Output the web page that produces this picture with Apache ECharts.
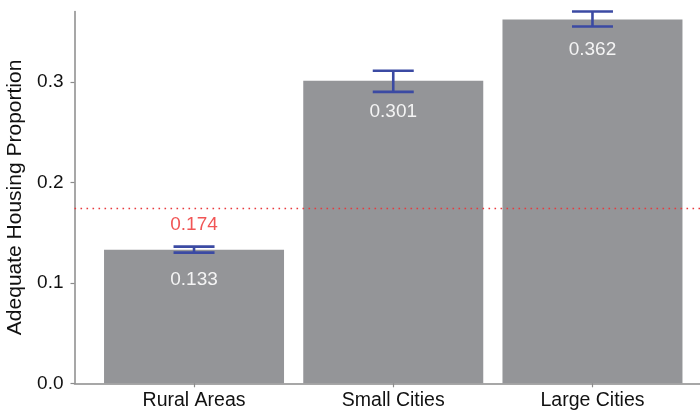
<!DOCTYPE html>
<html>
<head>
<meta charset="utf-8">
<script src="https://cdn.jsdelivr.net/npm/echarts@6/dist/echarts.min.js"></script>
<style>html,body{margin:0;padding:0;background:#fff;}#c{width:700px;height:412px;}</style>
</head>
<body>
<div id="c"></div>
<script>
const categories = ['Rural Areas', 'Small Cities', 'Large Cities'];
const values = [0.133, 0.301, 0.362];
const errLow = [0.130, 0.290, 0.355];
const errHigh = [0.136, 0.311, 0.370];
const refValue = 0.174;
const yTicks = [0, 0.1, 0.2, 0.3];
const catPositions = [1, 2, 3];
const xRange = [0.4, 3.6];

const FONT = '"Liberation Sans", Arial, Helvetica, sans-serif';
const chart = echarts.init(document.getElementById('c'), null, {renderer: 'canvas'});

const barData = values.map((v, i) => [catPositions[i], v]);
const errData = values.map((v, i) => [catPositions[i], errLow[i], errHigh[i]]);

chart.setOption({
  animation: false,
  backgroundColor: '#ffffff',
  grid: {left: 74.5, right: -12, top: 11.5, bottom: 28.7, containLabel: false, outerBoundsMode: 'none'},
  xAxis: {
    type: 'value', min: xRange[0], max: xRange[1],
    axisLine: {show: true, lineStyle: {color: '#8a8a8a', width: 1.5}},
    axisTick: {show: true, length: 4, customValues: catPositions, lineStyle: {color: '#8a8a8a', width: 1.2}},
    axisLabel: {
      customValues: catPositions,
      formatter: v => categories[Math.round(v) - 1] || '',
      fontFamily: FONT, fontSize: 19.5, color: '#111', margin: 7
    },
    splitLine: {show: false}
  },
  yAxis: {
    type: 'value', min: 0, max: 0.37,
    name: 'Adequate Housing Proportion', nameLocation: 'middle', nameGap: 46,
    nameTextStyle: {fontFamily: FONT, fontSize: 21, color: '#111', fontWeight: 500},
    axisLine: {show: true, lineStyle: {color: '#8a8a8a', width: 1.5}},
    axisTick: {show: true, length: 4, customValues: yTicks, lineStyle: {color: '#8a8a8a', width: 1.2}},
    axisLabel: {
      customValues: yTicks,
      formatter: v => v.toFixed(1),
      fontFamily: FONT, fontSize: 19, color: '#111', margin: 11
    },
    splitLine: {show: false}
  },
  series: [
    {
      type: 'bar', data: barData, barWidth: 180,
      itemStyle: {color: '#949598'},
      label: {
        show: true, position: 'insideTop', distance: 21,
        formatter: p => p.value[1].toFixed(3),
        fontFamily: FONT, fontSize: 19, color: '#f4f4f4'
      },
      z: 2
    },
    {
      type: 'line', data: [[xRange[0], refValue], [xRange[1], refValue]],
      showSymbol: false, symbol: 'none', silent: true,
      lineStyle: {color: '#e8393d', type: [1.6, 4.4], width: 1.6, cap: 'butt'},
      z: 3
    },
    {
      type: 'custom', data: errData, z: 5,
      renderItem: function (params, api) {
        const x = api.value(0);
        const lo = api.coord([x, api.value(1)]);
        const hi = api.coord([x, api.value(2)]);
        const half = 20.5;
        const style = {stroke: '#3b4aa3', lineWidth: 2.6};
        return {
          type: 'group',
          children: [
            {type: 'line', shape: {x1: lo[0], y1: lo[1], x2: hi[0], y2: hi[1]}, style: style},
            {type: 'line', shape: {x1: lo[0] - half, y1: lo[1], x2: lo[0] + half, y2: lo[1]}, style: style},
            {type: 'line', shape: {x1: hi[0] - half, y1: hi[1], x2: hi[0] + half, y2: hi[1]}, style: style}
          ]
        };
      }
    },
    {
      type: 'scatter', data: [[catPositions[0], refValue]], symbolSize: 0.001,
      label: {
        show: true, position: 'bottom', distance: 7,
        formatter: () => refValue.toFixed(3),
        fontFamily: FONT, fontSize: 19, color: '#ee2a2a'
      },
      z: 6
    }
  ]
});
</script>
</body>
</html>
